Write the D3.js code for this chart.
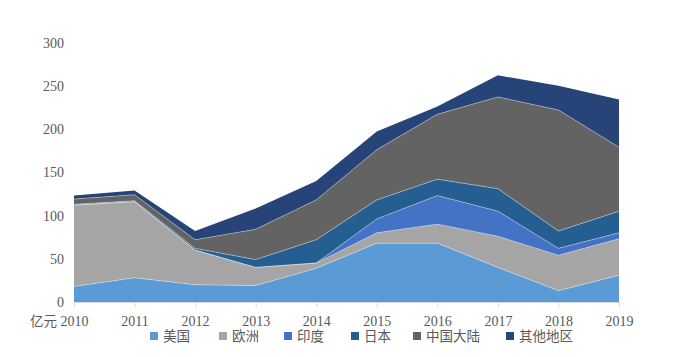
<!DOCTYPE html>
<html><head><meta charset="utf-8">
<script src="https://cdn.jsdelivr.net/npm/d3@7"></script>
<style>body{margin:0;background:#fff;} svg{display:block;}</style>
</head><body>
<svg id="c" width="690" height="357"></svg>
<script>
const years = ["2010","2011","2012","2013","2014","2015","2016","2017","2018","2019"];
const seriesNames = ["美国","欧洲","印度","日本","中国大陆","其他地区"];
const usa    = [18, 28, 20, 19, 39, 68, 68, 40, 13, 31];
const europe = [94, 88, 40, 21,  6, 12, 22, 36, 41, 42];
const india  = [ 0,  0,  0,  0,  0, 16, 33, 29,  8,  7];
const japan  = [ 1,  1,  2,  9, 27, 22, 19, 26, 20, 25];
const china  = [ 6,  7, 10, 35, 46, 58, 75,106,140, 74];
const other  = [ 4,  5, 10, 24, 22, 21,  9, 25, 28, 55];
const yTicks = [0, 50, 100, 150, 200, 250, 300];
const colors = ["#5B9BD5","#A5A5A5","#4472C4","#255E91","#636363","#264478"];

const rows = years.map((y,i)=>({year:y, "美国":usa[i], "欧洲":europe[i], "印度":india[i], "日本":japan[i], "中国大陆":china[i], "其他地区":other[i]}));
const stack = d3.stack().keys(seriesNames)(rows);

const svg = d3.select("#c");
const x = d3.scalePoint().domain(years).range([74, 619]);
const y = d3.scaleLinear().domain([0,300]).range([302, 42.5]);

const area = d3.area().x((d,i)=>x(years[i])).y0(d=>y(d[0])).y1(d=>y(d[1]));
const topLine = d3.line().x((d,i)=>x(years[i])).y(d=>y(d[1]));

svg.append("g").selectAll("path").data(stack).join("path")
  .attr("d", area).attr("fill",(d,i)=>colors[i]);
svg.append("g").selectAll("path").data(stack.slice(0,5)).join("path")
  .attr("d", topLine).attr("fill","none").attr("stroke","rgba(255,255,255,0.45)").attr("stroke-width",0.8);

// y labels
svg.append("g").selectAll("text").data(yTicks).join("text")
  .attr("x",64).attr("y",d=>y(d)+5).attr("text-anchor","end")
  .attr("font-family","'Liberation Serif','Times New Roman',serif").attr("font-size",14)
  .attr("fill","#595959").text(d=>d);

// x axis
const xa = svg.append("g").attr("transform","translate(0,302)")
  .call(d3.axisBottom(x).tickSize(5).tickSizeOuter(0));
xa.select(".domain").attr("stroke","#d9d9d9");
xa.selectAll(".tick line").attr("stroke","#d9d9d9");
xa.selectAll(".tick text").attr("font-family","'Liberation Serif','Times New Roman',serif")
  .attr("font-size",14).attr("fill","#595959").attr("dy","0").attr("y",23.5);
svg.append("text").attr("x",57).attr("y",325.5).attr("text-anchor","end")
  .attr("font-family","'Noto Sans CJK SC',sans-serif").attr("font-size",13.5).attr("fill","#595959").text("亿元");

// legend
const legX = [150, 219, 284, 351, 413, 506];
const lg = svg.append("g").selectAll("g").data(seriesNames).join("g")
  .attr("transform",(d,i)=>`translate(${legX[i]},336)`);
lg.append("rect").attr("x",0).attr("y",-4).attr("width",8).attr("height",8).attr("fill",(d,i)=>colors[i]);
lg.append("text").attr("x",13).attr("y",5).attr("font-family","'Noto Sans CJK SC',sans-serif")
  .attr("font-size",13.5).attr("fill","#595959").text(d=>d);
</script>
</body></html>
